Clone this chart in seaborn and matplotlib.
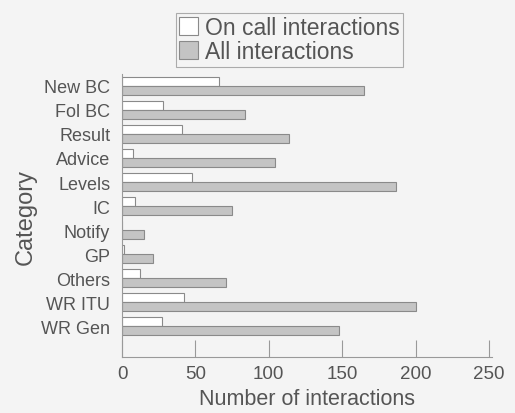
import pandas as pd
import matplotlib.pyplot as plt
import seaborn as sns

# =========================
# DADES
# =========================
categories = ['New BC', 'Fol BC', 'Result', 'Advice', 'Levels', 'IC',
              'Notify', 'GP', 'Others', 'WR ITU', 'WR Gen']
on_call = [66, 28, 41, 7.5, 47.5, 9, 0, 1.5, 12, 42, 27]
all_inter = [165, 84, 114, 104, 187, 75, 15, 21, 71, 200, 148]
series = ['On call interactions', 'All interactions']

df = pd.DataFrame({
    'Category': categories * 2,
    'value': on_call + all_inter,
    'type': [series[0]] * len(categories) + [series[1]] * len(categories),
})

# =========================
# ESTIL
# =========================
sns.set_style('white')
plt.rcParams['font.family'] = ['Liberation Sans', 'DejaVu Sans']
txt = '#555555'
bg = '#f4f4f4'

fig = plt.figure(figsize=(5.15, 4.14), dpi=100, facecolor=bg)
ax = fig.add_axes([0.237, 0.135, 0.718, 0.684], facecolor=bg)

sns.barplot(
    data=df, y='Category', x='value', hue='type', orient='h',
    order=categories, hue_order=series,
    palette={series[0]: 'white', series[1]: '#c4c4c4'},
    edgecolor='#8a8a8a', linewidth=0.8, width=0.72, gap=0.0,
    ax=ax,
)

ax.set_xlim(0, 252)
ax.set_ylim(len(categories) - 1 + 1.29, -0.5)
ax.set_xticks([0, 50, 100, 150, 200, 250])
ax.tick_params(axis='x', bottom=True, direction='in', length=12, width=0.8,
               colors='#999999', labelcolor=txt, labelsize=13.5, pad=6)
ax.tick_params(axis='y', left=False, labelcolor=txt, labelsize=13, pad=5)

for s in ['top', 'right']:
    ax.spines[s].set_visible(False)
for s in ['left', 'bottom']:
    ax.spines[s].set_color('#999999')
    ax.spines[s].set_linewidth(0.8)

ax.set_xlabel('Number of interactions', fontsize=15.5, color=txt, labelpad=4)
ax.set_ylabel('Category', fontsize=17, color=txt, labelpad=3)

ax.get_legend().remove()
handles, labels = ax.get_legend_handles_labels()
leg = fig.legend(handles[:2], labels[:2], loc='upper center',
                 bbox_to_anchor=(0.562, 0.995), fontsize=16.5,
                 frameon=True, fancybox=False, borderpad=0.15,
                 handlelength=0.8, handleheight=0.8, handletextpad=0.3,
                 labelspacing=0.05, labelcolor=txt)
leg.get_frame().set_edgecolor('#999999')
leg.get_frame().set_facecolor(bg)
leg.get_frame().set_linewidth(0.8)

fig.savefig('out.png', dpi=100, facecolor=bg)
